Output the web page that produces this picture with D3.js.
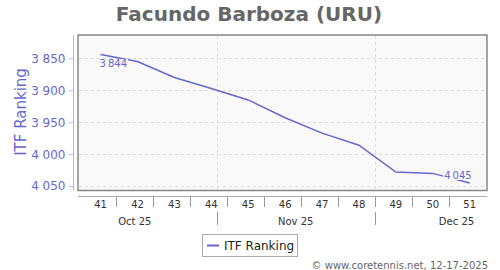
<!DOCTYPE html>
<html><head><meta charset="utf-8">
<script src="https://cdn.jsdelivr.net/npm/d3@7"></script>
<style>body{margin:0;background:#fff}svg{display:block;font-family:"DejaVu Sans",sans-serif}</style>
</head><body><svg id="c" width="500" height="270"></svg>
<script>
const title = "Facundo Barboza (URU)";
const seriesName = "ITF Ranking";
const weeks = [41,42,43,44,45,46,47,48,49,50,51];
const weekDates = ["2025-10-10","2025-10-17","2025-10-24","2025-10-31","2025-11-07","2025-11-14","2025-11-21","2025-11-28","2025-12-05","2025-12-12","2025-12-19"];
const ranking = [3844,3855,3880,3897,3915,3943,3967,3986,4028,4030,4045];
const yTicks = [3850,3900,3950,4000,4050];
const months = [["2025-10-01","Oct 25"],["2025-11-01","Nov 25"],["2025-12-01","Dec 25"]];
const copyright = "© www.coretennis.net, 12-17-2025";

const parse = d3.utcParse("%Y-%m-%d");
const svg = d3.select("#c");
const L=78,T=35,R=487,B=190.5;
const col="#6767cf";
const loc = d3.formatLocale({decimal:".",thousands:"\u2009",grouping:[3],currency:["",""]});
const fmt = loc.format(",d");
const fmtAxis = d3.formatLocale({decimal:".",thousands:" ",grouping:[3],currency:["",""]}).format(",d");

const x = d3.scaleUtc().domain([parse("2025-10-06"),parse("2025-12-22")]).range([79.5,485.5]);
const y = d3.scaleLinear().domain([3813.4,4056.8]).range([T,B]);

svg.append("text").attr("x",249).attr("y",21).attr("text-anchor","middle")
  .attr("font-size",20).attr("font-weight","bold").attr("fill","#666").text(title);

svg.append("rect").attr("x",L).attr("y",T).attr("width",R-L).attr("height",B-T)
  .attr("fill","#f9f9f9").attr("stroke","#888").attr("stroke-width",1.5);

// grid
svg.append("g").selectAll("line").data(yTicks).join("line")
  .attr("x1",L+1).attr("x2",R-1).attr("y1",d=>Math.round(y(d))+0.5).attr("y2",d=>Math.round(y(d))+0.5)
  .attr("stroke","#ddd").attr("stroke-dasharray","3,3");
const monthStarts = months.map(m=>parse(m[0])).filter(d=>d>x.domain()[0]);
svg.append("g").selectAll("line").data(monthStarts).join("line")
  .attr("x1",d=>Math.round(x(d))+0.5).attr("x2",d=>Math.round(x(d))+0.5).attr("y1",T+1).attr("y2",B-1)
  .attr("stroke","#ddd").attr("stroke-dasharray","3,3");

// y axis
const ya = svg.append("g").attr("transform","translate(73.5,0)")
  .call(d3.axisLeft(y).tickValues(yTicks).tickSize(5).tickPadding(3).tickFormat(fmtAxis));
ya.select(".domain").attr("stroke","#b8b8dd").attr("d",`M0,${T}V${B}`);
ya.selectAll(".tick line").attr("stroke","#b8b8dd");
ya.selectAll(".tick text").attr("fill","#6767cf").attr("font-size",12).attr("font-family","DejaVu Sans");

svg.append("text").attr("transform","translate(21,112) rotate(-90)").attr("text-anchor","middle")
  .attr("dominant-baseline","central").attr("font-size",15).attr("fill","#6767cf").text(seriesName);

// x axis
svg.append("line").attr("x1",L).attr("x2",R).attr("y1",196.5).attr("y2",196.5).attr("stroke","#aaa");
const mondays = d3.utcMonday.range(d3.utcDay.offset(x.domain()[0],1), x.domain()[1]);
svg.append("g").selectAll("line").data(mondays).join("line")
  .attr("x1",d=>Math.round(x(d))+0.5).attr("x2",d=>Math.round(x(d))+0.5).attr("y1",197).attr("y2",207)
  .attr("stroke","#999");
svg.append("g").selectAll("text").data(weeks).join("text")
  .attr("x",(d,i)=>x(parse(weekDates[i]))).attr("y",207.5).attr("text-anchor","middle")
  .attr("font-size",10).attr("fill","#333").text(d=>d);
svg.append("g").selectAll("line").data(monthStarts).join("line")
  .attr("x1",d=>Math.round(x(d))+0.5).attr("x2",d=>Math.round(x(d))+0.5).attr("y1",212).attr("y2",225)
  .attr("stroke","#999");
svg.append("g").selectAll("text").data(months).join("text")
  .attr("x",d=>{const s=parse(d[0]);const e=d3.utcMonth.offset(s,1);return (x(s)+x(e))/2;})
  .attr("y",224.5).attr("text-anchor","middle").attr("font-size",10).attr("fill","#333").text(d=>d[1]);

// line
const pts = ranking.map((v,i)=>({d:parse(weekDates[i]),v}));
svg.append("path").datum(pts).attr("fill","none").attr("stroke",col).attr("stroke-width",1.5)
  .attr("d",d3.line().x(p=>x(p.d)).y(p=>y(p.v)));

// data labels
function label(p, anchor, dx, dy){
  const g = svg.append("g");
  const t = g.append("text").attr("x",x(p.d)+dx).attr("y",y(p.v)+dy).attr("text-anchor",anchor)
    .attr("font-size",10).attr("fill","#6767cf").text(fmt(p.v));
  const bb = t.node().getBBox();
  g.insert("rect","text").attr("x",bb.x-1).attr("y",bb.y+1).attr("width",bb.width+2).attr("height",bb.height-2)
    .attr("fill","#f9f9f9");
}
label(pts[0],"start",-1,12.5);
label(pts[pts.length-1],"end",2,-4);

// legend
svg.append("rect").attr("x",202.5).attr("y",234.5).attr("width",95).attr("height",22)
  .attr("fill","#fff").attr("stroke","#aaa");
svg.append("line").attr("x1",207).attr("x2",219).attr("y1",245.5).attr("y2",245.5).attr("stroke",col).attr("stroke-width",2);
svg.append("text").attr("x",224).attr("y",250).attr("font-size",12).attr("fill","#222").text(seriesName);

svg.append("text").attr("x",488).attr("y",268.5).attr("text-anchor","end").attr("font-size",10)
  .attr("fill","#666").text(copyright);
</script></body></html>
